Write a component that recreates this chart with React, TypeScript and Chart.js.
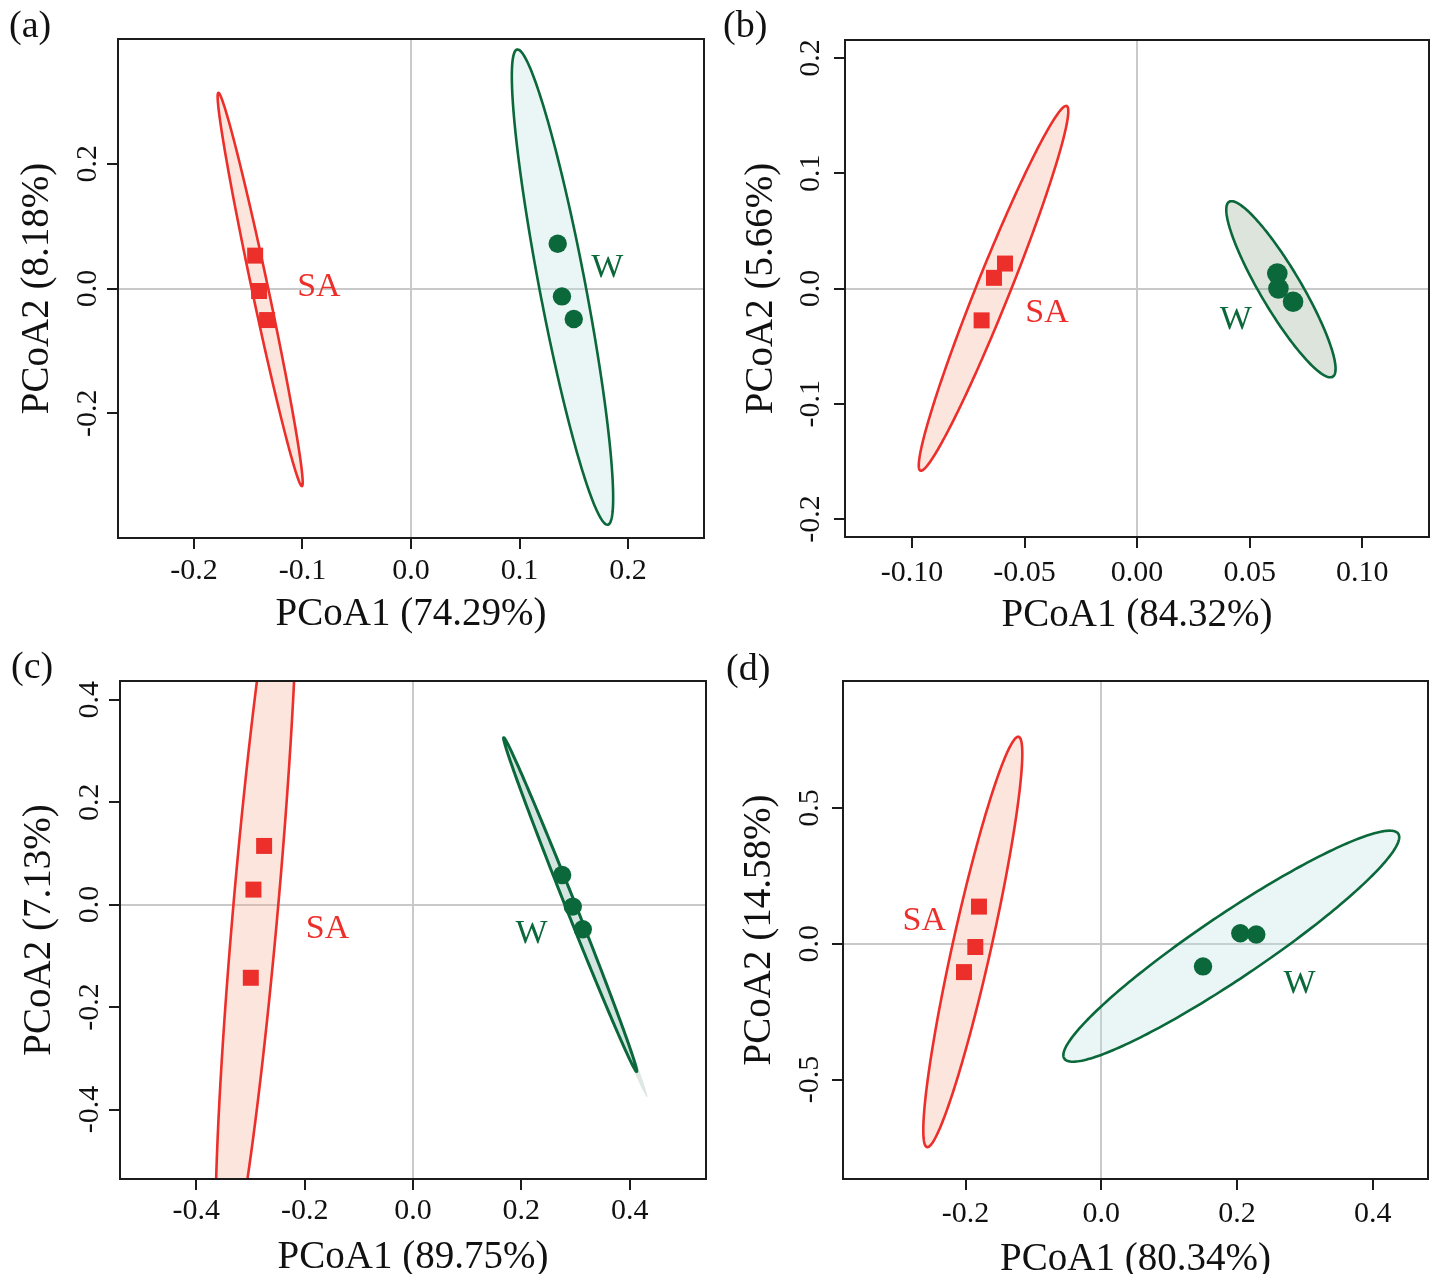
import React, { useEffect, useRef } from "react";
import { Chart, registerables } from "chart.js";

Chart.register(...registerables);

const FONT = "'Liberation Serif', 'Times New Roman', serif";
const RED = "#EC2F2A";
const GREEN = "#0A683A";

// ---------------- Panel (a) ----------------
const xTickLabelsA = ["-0.2", "-0.1", "0.0", "0.1", "0.2"];
const yTickLabelsA = ["-0.2", "0.0", "0.2"];
const xRangeA = [-0.27, 0.27];
const yRangeA = [-0.4, 0.4];
const saXA = [-0.1436, -0.14, -0.1326];
const saYA = [0.0527, -0.004, -0.0506];
const wXA = [0.1352, 0.1391, 0.15];
const wYA = [0.0718, -0.0127, -0.0489];
// ellipse: centre x, centre y, major-axis tip x, y, minor-axis tip x, y
const saEllipseA = [-0.139, -0.0016, -0.1775, 0.3136, -0.1317, 0.0011];
const wEllipseA = [0.1396, 0.0022, 0.0978, 0.3831, 0.1604, 0.0091];
const saLabelA = [-0.0849, 0.0067];
const wLabelA = [0.1808, 0.0361];
const titlesA = ["PCoA1 (74.29%)", "PCoA2 (8.18%)"];

// ---------------- Panel (b) ----------------
const xTickLabelsB = ["-0.10", "-0.05", "0.00", "0.05", "0.10"];
const yTickLabelsB = ["-0.2", "-0.1", "0.0", "0.1", "0.2"];
const xRangeB = [-0.1298, 0.1297];
const yRangeB = [-0.2156, 0.2157];
const saXB = [-0.0587, -0.0636, -0.0691];
const saYB = [0.0217, 0.0093, -0.0276];
const wXB = [0.0623, 0.0628, 0.0693];
const wYB = [0.013, 0.0, -0.0115];
const saEllipseB = [-0.0638, 0.0002, -0.0313, 0.1584, -0.0569, -0.0052];
const wEllipseB = [0.0639, -0.0006, 0.0409, 0.0753, 0.0717, 0.0084];
const saLabelB = [-0.04, -0.0192];
const wLabelB = [0.0438, -0.0254];
const titlesB = ["PCoA1 (84.32%)", "PCoA2 (5.66%)"];

// ---------------- Panel (c) ----------------
const xTickLabelsC = ["-0.4", "-0.2", "0.0", "0.2", "0.4"];
const yTickLabelsC = ["-0.4", "-0.2", "0.0", "0.2", "0.4"];
const xRangeC = [-0.541, 0.541];
const yRangeC = [-0.5355, 0.4364];
const saXC = [-0.2749, -0.2946, -0.2995];
const saYC = [0.1145, 0.0293, -0.1428];
const wXC = [0.2754, 0.295, 0.3135];
const wYC = [0.0577, -0.0039, -0.048];
const saEllipseC = [-0.2893, 0.0096, -0.2259, 0.7704, -0.2482, 0.0057];
const wEllipseC = [0.2902, 0.0, 0.1675, 0.3258, 0.2988, 0.0036];
const wTailEllipseC = [0.3, -0.0252, 0.1675, 0.3258, 0.3086, -0.0216];
const saLabelC = [-0.1578, -0.0433];
const wLabelC = [0.2187, -0.0529];
const titlesC = ["PCoA1 (89.75%)", "PCoA2 (7.13%)"];

// ---------------- Panel (d) ----------------
const xTickLabelsD = ["-0.2", "0.0", "0.2", "0.4"];
const yTickLabelsD = ["-0.5", "0.0", "0.5"];
const xRangeD = [-0.3807, 0.4815];
const yRangeD = [-0.866, 0.9676];
const saXD = [-0.1803, -0.1857, -0.2024];
const saYD = [0.1369, -0.0118, -0.1042];
const wXD = [0.2049, 0.2284, 0.1499];
const wYD = [0.0386, 0.0342, -0.0832];
const saEllipseD = [-0.1894, 0.0068, -0.1219, 0.7622, -0.1617, -0.0086];
const wEllipseD = [0.1916, -0.0088, 0.4377, 0.4052, 0.218, -0.1064];
const saLabelD = [-0.2609, 0.0924];
const wLabelD = [0.2923, -0.1384];
const titlesD = ["PCoA1 (80.34%)", "PCoA2 (14.58%)"];

const groupNames = ["SA", "W"];
const panelLetters = ["(a)", "(b)", "(c)", "(d)"];

type Panel = {
  letter: string;
  xTicks: string[];
  yTicks: string[];
  xRange: number[];
  yRange: number[];
  saX: number[];
  saY: number[];
  wX: number[];
  wY: number[];
  saEllipse: number[];
  wEllipse: number[];
  wTail?: number[];
  saLabel: number[];
  wLabel: number[];
  titles: string[];
};

const PANELS: Panel[] = [
  { letter: panelLetters[0], xTicks: xTickLabelsA, yTicks: yTickLabelsA, xRange: xRangeA, yRange: yRangeA, saX: saXA, saY: saYA, wX: wXA, wY: wYA, saEllipse: saEllipseA, wEllipse: wEllipseA, saLabel: saLabelA, wLabel: wLabelA, titles: titlesA },
  { letter: panelLetters[1], xTicks: xTickLabelsB, yTicks: yTickLabelsB, xRange: xRangeB, yRange: yRangeB, saX: saXB, saY: saYB, wX: wXB, wY: wYB, saEllipse: saEllipseB, wEllipse: wEllipseB, saLabel: saLabelB, wLabel: wLabelB, titles: titlesB },
  { letter: panelLetters[2], xTicks: xTickLabelsC, yTicks: yTickLabelsC, xRange: xRangeC, yRange: yRangeC, saX: saXC, saY: saYC, wX: wXC, wY: wYC, saEllipse: saEllipseC, wEllipse: wEllipseC, wTail: wTailEllipseC, saLabel: saLabelC, wLabel: wLabelC, titles: titlesC },
  { letter: panelLetters[3], xTicks: xTickLabelsD, yTicks: yTickLabelsD, xRange: xRangeD, yRange: yRangeD, saX: saXD, saY: saYD, wX: wXD, wY: wYD, saEllipse: saEllipseD, wEllipse: wEllipseD, saLabel: saLabelD, wLabel: wLabelD, titles: titlesD },
];

// Layout / style per panel (pixels)
const LAYOUT = [
  { left: 0, top: 0, w: 717, h: 637, yW: 118, xH: 99, padTop: 39, padRight: 13, xLab: 40.6, xTitle: 87.3, yLab: 21.6, yTitle: 70, letterX: 9, letterY: 37, wFill: "rgba(190,225,225,0.32)", circleR: 9.2, wLine: 2.6 },
  { left: 717, top: 0, w: 717, h: 637, yW: 128, xH: 100, padTop: 40, padRight: 5, xLab: 44, xTitle: 89, yLab: 26, yTitle: 72.6, letterX: 6, letterY: 37, wFill: "rgba(120,150,120,0.26)", circleR: 10.3, wLine: 2.6 },
  { left: 0, top: 637, w: 717, h: 637, yW: 120, xH: 95, padTop: 44, padRight: 11, xLab: 39.6, xTitle: 89.4, yLab: 21.7, yTitle: 70, letterX: 11, letterY: 41, wFill: "rgba(190,225,225,0.32)", circleR: 9.2, wLine: 3 },
  { left: 717, top: 637, w: 717, h: 637, yW: 126, xH: 95, padTop: 44, padRight: 6, xLab: 43, xTitle: 91.4, yLab: 25, yTitle: 73.3, letterX: 9, letterY: 43, wFill: "rgba(190,225,225,0.32)", circleR: 9.2, wLine: 2.6 },
];

const SA_FILL = "rgba(246,170,140,0.3)";
const TAIL_FILL = "rgba(150,175,160,0.3)";

function ellipsePath(ctx: CanvasRenderingContext2D, xs: any, ys: any, e: number[]) {
  const cx = xs.getPixelForValue(e[0]);
  const cy = ys.getPixelForValue(e[1]);
  const ux = xs.getPixelForValue(e[2]) - cx;
  const uy = ys.getPixelForValue(e[3]) - cy;
  const vx = xs.getPixelForValue(e[4]) - cx;
  const vy = ys.getPixelForValue(e[5]) - cy;
  ctx.beginPath();
  const n = 240;
  for (let i = 0; i <= n; i++) {
    const t = (i / n) * Math.PI * 2;
    const px = cx + ux * Math.cos(t) + vx * Math.sin(t);
    const py = cy + uy * Math.cos(t) + vy * Math.sin(t);
    if (i === 0) ctx.moveTo(px, py);
    else ctx.lineTo(px, py);
  }
  ctx.closePath();
}

function makePlugin(p: Panel, L: any) {
  return {
    id: "pcoaDecor",
    beforeDatasetsDraw(chart: any) {
      const ctx: CanvasRenderingContext2D = chart.ctx;
      const xs = chart.scales.x;
      const ys = chart.scales.y;
      const a = chart.chartArea;
      ctx.save();
      ctx.beginPath();
      ctx.rect(a.left, a.top, a.right - a.left, a.bottom - a.top);
      ctx.clip();
      ellipsePath(ctx, xs, ys, p.saEllipse);
      ctx.fillStyle = SA_FILL;
      ctx.fill();
      ctx.lineWidth = 2.6;
      ctx.strokeStyle = RED;
      ctx.stroke();
      if (p.wTail) {
        ellipsePath(ctx, xs, ys, p.wTail);
        ctx.fillStyle = TAIL_FILL;
        ctx.fill();
      }
      ellipsePath(ctx, xs, ys, p.wEllipse);
      ctx.fillStyle = L.wFill;
      ctx.fill();
      ctx.lineWidth = L.wLine;
      ctx.strokeStyle = GREEN;
      ctx.stroke();
      ctx.restore();
    },
    afterDatasetsDraw(chart: any) {
      const ctx: CanvasRenderingContext2D = chart.ctx;
      const xs = chart.scales.x;
      const ys = chart.scales.y;
      const size = 34;
      ctx.save();
      ctx.font = `${size}px ${FONT}`;
      ctx.textAlign = "center";
      ctx.textBaseline = "alphabetic";
      ctx.fillStyle = RED;
      ctx.fillText(groupNames[0], xs.getPixelForValue(p.saLabel[0]), ys.getPixelForValue(p.saLabel[1]) + size * 0.33);
      ctx.fillStyle = GREEN;
      ctx.fillText(groupNames[1], xs.getPixelForValue(p.wLabel[0]), ys.getPixelForValue(p.wLabel[1]) + size * 0.33);
      ctx.restore();
    },
    afterDraw(chart: any) {
      const ctx: CanvasRenderingContext2D = chart.ctx;
      const xs = chart.scales.x;
      const ys = chart.scales.y;
      const a = chart.chartArea;
      ctx.save();
      ctx.strokeStyle = "#1c1c1c";
      ctx.lineWidth = 2;
      ctx.strokeRect(a.left, a.top, a.right - a.left, a.bottom - a.top);
      ctx.fillStyle = "#111";
      ctx.font = `30px ${FONT}`;
      ctx.textAlign = "center";
      ctx.textBaseline = "alphabetic";
      p.xTicks.forEach((lab) => {
        ctx.fillText(lab, xs.getPixelForValue(parseFloat(lab)), a.bottom + L.xLab);
      });
      p.yTicks.forEach((lab) => {
        ctx.save();
        ctx.translate(a.left - L.yLab, ys.getPixelForValue(parseFloat(lab)));
        ctx.rotate(-Math.PI / 2);
        ctx.fillText(lab, 0, 0);
        ctx.restore();
      });
      ctx.font = `39px ${FONT}`;
      ctx.fillText(p.titles[0], (a.left + a.right) / 2, a.bottom + L.xTitle);
      ctx.save();
      ctx.translate(a.left - L.yTitle, (a.top + a.bottom) / 2);
      ctx.rotate(-Math.PI / 2);
      ctx.fillText(p.titles[1], 0, 0);
      ctx.restore();
      ctx.font = `38px ${FONT}`;
      ctx.textAlign = "left";
      ctx.fillText(p.letter, L.letterX, L.letterY);
      ctx.restore();
    },
  };
}

function PanelChart({ p, L }: { p: Panel; L: any }) {
  const ref = useRef<HTMLCanvasElement | null>(null);
  useEffect(() => {
    if (!ref.current) return;
    const gridCfg = {
      color: (c: any) => (c.tick && Math.abs(c.tick.value) < 1e-12 ? "#c9c9c9" : "rgba(0,0,0,0)"),
      lineWidth: 2,
      drawTicks: true,
      tickLength: 11,
      tickColor: "#1c1c1c",
      tickWidth: 2,
    };
    const chart = new Chart(ref.current, {
      type: "scatter",
      data: {
        datasets: [
          {
            label: groupNames[0],
            data: p.saX.map((x, i) => ({ x, y: p.saY[i] })),
            pointStyle: "rect",
            pointRadius: 11.3,
            pointHoverRadius: 11.3,
            backgroundColor: RED,
            borderWidth: 0,
          },
          {
            label: groupNames[1],
            data: p.wX.map((x, i) => ({ x, y: p.wY[i] })),
            pointStyle: "circle",
            pointRadius: L.circleR,
            pointHoverRadius: L.circleR,
            backgroundColor: GREEN,
            borderWidth: 0,
          },
        ],
      },
      options: {
        animation: false,
        responsive: false,
        devicePixelRatio: 1,
        events: [],
        layout: { autoPadding: false, padding: { top: L.padTop, right: L.padRight, left: 0, bottom: 0 } },
        plugins: { legend: { display: false }, tooltip: { enabled: false } },
        scales: {
          x: {
            type: "linear",
            min: p.xRange[0],
            max: p.xRange[1],
            afterBuildTicks: (s: any) => {
              s.ticks = p.xTicks.map((t) => ({ value: parseFloat(t) }));
            },
            afterFit: (s: any) => {
              s.height = L.xH;
            },
            ticks: { display: false },
            grid: gridCfg,
            border: { display: false },
          },
          y: {
            type: "linear",
            min: p.yRange[0],
            max: p.yRange[1],
            afterBuildTicks: (s: any) => {
              s.ticks = p.yTicks.map((t) => ({ value: parseFloat(t) }));
            },
            afterFit: (s: any) => {
              s.width = L.yW;
            },
            ticks: { display: false },
            grid: gridCfg,
            border: { display: false },
          },
        },
      } as any,
      plugins: [makePlugin(p, L)],
    });
    return () => chart.destroy();
  }, []);
  return (
    <canvas
      ref={ref}
      width={L.w}
      height={L.h}
      style={{ position: "absolute", left: L.left, top: L.top, width: L.w, height: L.h, display: "block" }}
    />
  );
}

export default function App() {
  useEffect(() => {
    document.documentElement.style.overflow = "hidden";
    document.body.style.overflow = "hidden";
    document.body.style.margin = "0";
  }, []);
  return (
    <div style={{ position: "absolute", left: 0, top: 0, width: 1434, height: 1274, background: "#fff", overflow: "hidden" }}>
      {PANELS.map((p, i) => (
        <PanelChart key={i} p={p} L={LAYOUT[i]} />
      ))}
    </div>
  );
}
